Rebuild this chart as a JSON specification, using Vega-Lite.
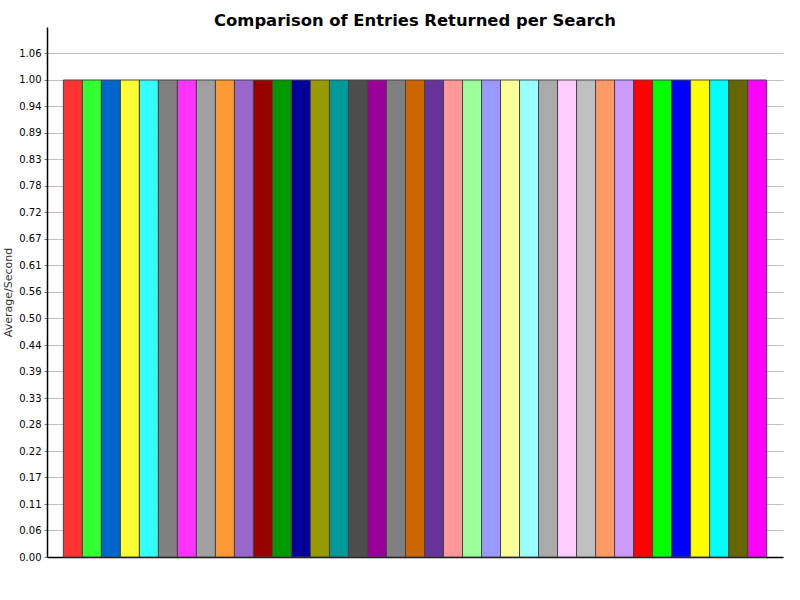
{
  "$schema": "https://vega.github.io/schema/vega-lite/v6.json",
  "autosize": "none",
  "padding": {"left": 47, "top": 27, "right": 17, "bottom": 43},
  "width": 736,
  "height": 530,
  "background": "white",
  "title": {
    "text": "Comparison of Entries Returned per Search",
    "font": "DejaVu Sans",
    "fontSize": 16.4,
    "fontWeight": "bold",
    "color": "black",
    "anchor": "middle",
    "offset": -2
  },
  "data": {
    "values": [
      {"series": "s01", "value": 1}, {"series": "s02", "value": 1},
      {"series": "s03", "value": 1}, {"series": "s04", "value": 1},
      {"series": "s05", "value": 1}, {"series": "s06", "value": 1},
      {"series": "s07", "value": 1}, {"series": "s08", "value": 1},
      {"series": "s09", "value": 1}, {"series": "s10", "value": 1},
      {"series": "s11", "value": 1}, {"series": "s12", "value": 1},
      {"series": "s13", "value": 1}, {"series": "s14", "value": 1},
      {"series": "s15", "value": 1}, {"series": "s16", "value": 1},
      {"series": "s17", "value": 1}, {"series": "s18", "value": 1},
      {"series": "s19", "value": 1}, {"series": "s20", "value": 1},
      {"series": "s21", "value": 1}, {"series": "s22", "value": 1},
      {"series": "s23", "value": 1}, {"series": "s24", "value": 1},
      {"series": "s25", "value": 1}, {"series": "s26", "value": 1},
      {"series": "s27", "value": 1}, {"series": "s28", "value": 1},
      {"series": "s29", "value": 1}, {"series": "s30", "value": 1},
      {"series": "s31", "value": 1}, {"series": "s32", "value": 1},
      {"series": "s33", "value": 1}, {"series": "s34", "value": 1},
      {"series": "s35", "value": 1}, {"series": "s36", "value": 1},
      {"series": "s37", "value": 1}
    ]
  },
  "mark": {"type": "bar", "stroke": "#444444", "strokeWidth": 1},
  "encoding": {
    "x": {
      "field": "series",
      "type": "nominal",
      "sort": null,
      "scale": {"paddingInner": 0, "paddingOuter": 0.86},
      "axis": {
        "title": null,
        "labels": false,
        "ticks": false,
        "domainColor": "black",
        "domainWidth": 1.5
      }
    },
    "y": {
      "field": "value",
      "type": "quantitative",
      "scale": {"domain": [0, 1.1111], "nice": false, "zero": true},
      "axis": {
        "title": "Average/Second",
        "titleFont": "DejaVu Sans",
        "titleFontSize": 11,
        "titleFontWeight": "normal",
        "titleColor": "#333333",
        "titlePadding": 5,
        "labelFont": "DejaVu Sans",
        "labelFontSize": 10,
        "labelColor": "black",
        "labelPadding": 3,
        "format": ".2f",
        "values": [0, 0.05556, 0.11111, 0.16667, 0.22222, 0.27778, 0.33333, 0.38889, 0.44444, 0.5, 0.55556, 0.61111, 0.66667, 0.72222, 0.77778, 0.83333, 0.88889, 0.94444, 1, 1.05556],
        "tickSize": 3,
        "tickColor": "#808080",
        "domainColor": "black",
        "domainWidth": 1.5,
        "grid": true,
        "gridColor": "#c0c0c0",
        "gridWidth": 1
      }
    },
    "color": {
      "field": "series",
      "type": "nominal",
      "sort": null,
      "legend": null,
      "scale": {
        "range": [
          "#ff3333", "#33ff33", "#0066cc", "#ffff33", "#33ffff", "#808080",
          "#ff33ff", "#a0a0a0", "#ff9933", "#9966cc", "#990000", "#009900",
          "#000099", "#999900", "#009999", "#4d4d4d", "#990099", "#808080",
          "#cc6600", "#663399", "#ff9999", "#99ff99", "#9999ff", "#ffff99",
          "#99ffff", "#aaaaaa", "#ffccff", "#c0c0c0", "#ff9966", "#cc99ff",
          "#ff0000", "#00ff00", "#0000ff", "#ffff00", "#00ffff", "#666600",
          "#ff00ff"
        ]
      }
    },
    "opacity": {"value": 1}
  },
  "config": {
    "view": {"stroke": null},
    "axis": {"zindex": 0}
  }
}
